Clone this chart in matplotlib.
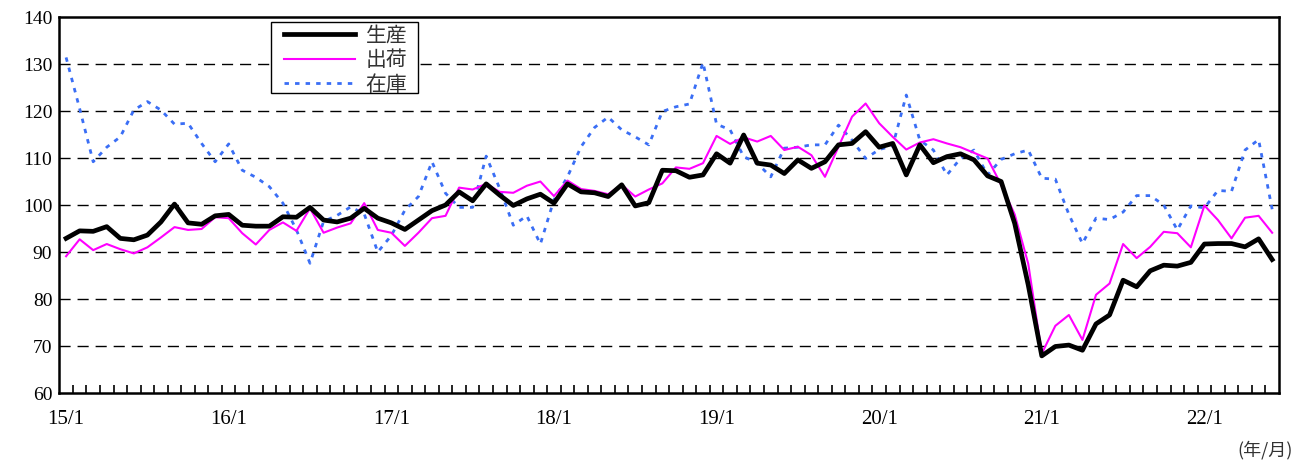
import matplotlib
matplotlib.use("Agg")
import matplotlib.pyplot as plt
from matplotlib.patches import Rectangle
from matplotlib.ticker import FixedLocator, NullFormatter

# month labels 15/1 .. 22/6
months = [f"{y}/{m}" for y in range(15, 23) for m in range(1, 13)][:90]
year_labels = ["15/1", "16/1", "17/1", "18/1", "19/1", "20/1", "21/1", "22/1"]

# 生産
production = [
    92.9, 94.5, 94.4, 95.4, 92.9, 92.6, 93.6, 96.4, 100.2, 96.2, 95.9, 97.7,
    98.0, 95.7, 95.5, 95.5, 97.5, 97.4, 99.5, 96.8, 96.4, 97.2, 99.3, 97.2,
    96.2, 94.8, 96.8, 98.8, 100.0, 102.8, 100.9, 104.5, 102.1, 99.9, 101.3, 102.3,
    100.4, 104.5, 102.8, 102.6, 101.8, 104.3, 99.8, 100.5, 107.4, 107.3, 105.9, 106.4,
    110.9, 108.9, 114.9, 108.9, 108.5, 106.7, 109.6, 107.8, 109.2, 112.8, 113.1, 115.6,
    112.3, 113.1, 106.4, 112.8, 109.0, 110.3, 110.9, 109.6, 106.2, 105.0, 96.1, 83.0,
    67.9, 69.9, 70.2, 69.1, 74.7, 76.6, 84.0, 82.6, 86.0, 87.2, 87.0, 87.8,
    91.7, 91.8, 91.8, 91.1, 92.8, 88.4,
]

# 出荷
shipments = [
    89.1, 92.7, 90.4, 91.7, 90.6, 89.7, 91.0, 93.1, 95.3, 94.7, 94.9, 97.4,
    97.2, 94.0, 91.6, 94.7, 96.3, 94.5, 99.3, 94.1, 95.2, 96.1, 100.4, 94.7,
    94.1, 91.3, 94.1, 97.2, 97.7, 103.7, 103.3, 104.5, 102.8, 102.6, 104.1, 105.0,
    101.9, 105.2, 103.4, 103.0, 102.3, 104.3, 101.8, 103.3, 104.6, 108.0, 107.7, 108.9,
    114.7, 113.0, 114.4, 113.5, 114.7, 111.7, 112.4, 110.6, 106.0, 112.4, 118.8, 121.6,
    117.4, 114.5, 111.8, 113.3, 114.0, 113.1, 112.3, 111.1, 109.9, 104.3, 98.0, 87.5,
    68.4, 74.3, 76.6, 71.3, 80.9, 83.3, 91.7, 88.7, 91.1, 94.3, 94.0, 91.0,
    99.9, 96.8, 92.9, 97.3, 97.7, 94.1,
]

# 在庫
inventory = [
    131.4, 120.5, 109.2, 112.3, 114.5, 120.2, 122.0, 120.2, 117.2, 117.4, 113.1, 109.2,
    113.0, 107.4, 105.9, 103.9, 100.4, 94.7, 87.6, 96.5, 97.8, 99.6, 98.1, 90.0,
    93.5, 98.9, 101.8, 109.2, 102.5, 99.5, 99.5, 110.4, 103.5, 95.7, 97.7, 91.7,
    101.1, 106.0, 112.4, 116.5, 118.7, 116.0, 114.5, 112.8, 119.9, 120.9, 121.5, 130.3,
    117.2, 116.0, 110.3, 108.9, 106.0, 112.1, 112.3, 112.8, 112.8, 117.0, 113.8, 109.9,
    111.8, 112.6, 123.4, 113.8, 111.7, 106.4, 109.9, 111.7, 106.4, 109.7, 110.9, 111.7,
    105.7, 105.5, 98.0, 91.8, 97.2, 96.9, 98.5, 102.0, 102.0, 100.0, 94.7, 99.8,
    99.4, 103.1, 102.9, 111.7, 113.9, 99.1,
]

series_labels = ["生産", "出荷", "在庫"]

num_font = "Liberation Serif"
jp_font = ["Noto Sans CJK JP", "DejaVu Sans"]

fig = plt.figure(figsize=(12.95, 4.70), dpi=100)
ax = fig.add_axes([0.0458, 0.1638, 0.9418, 0.8000])

x = list(range(len(months)))

# grid lines first so the series sit on top
for v in range(70, 140, 10):
    ax.axhline(v, color="black", lw=1.0, dashes=(8, 5), zorder=1)

ax.plot(x, inventory, color="#3A6EF5", lw=2.0, dashes=(1.6, 2.2), label=series_labels[2], zorder=2)
ax.plot(x, shipments, color="#FF00FF", lw=1.5, label=series_labels[1], zorder=3)
ax.plot(x, production, color="black", lw=3.4, label=series_labels[0], zorder=4)

ax.set_xlim(-0.5, len(months) - 0.5)
ax.set_ylim(60, 140)
ax.set_yticks(range(60, 141, 10))

# year labels on january, small inward ticks between months
ax.set_xticks([months.index(m) for m in year_labels])
ax.set_xticklabels(year_labels)
ax.xaxis.set_minor_locator(FixedLocator([i - 0.5 for i in range(1, len(months))]))
ax.xaxis.set_minor_formatter(NullFormatter())
ax.tick_params(axis="x", which="major", length=0, pad=12)
ax.tick_params(axis="x", which="minor", direction="in", length=6, width=1.2, color="black")
ax.tick_params(axis="y", length=0, pad=5)

for lab in ax.get_xticklabels():
    lab.set_fontfamily(num_font)
    lab.set_fontsize(15)
for lab in ax.get_yticklabels():
    lab.set_fontfamily(num_font)
    lab.set_fontsize(14)

for sp in ax.spines.values():
    sp.set_linewidth(1.8)
    sp.set_color("black")

# legend box drawn by hand, entries without frame inside it
ax.add_patch(Rectangle((0.1736, 0.7979), 0.1205, 0.1888, transform=ax.transAxes,
                       facecolor="white", edgecolor="black", lw=1.0, zorder=5))
h, l = ax.get_legend_handles_labels()
order = [2, 1, 0]
leg = ax.legend([h[i] for i in order], [l[i] for i in order],
                loc="upper left", bbox_to_anchor=(0.1845, 0.980), borderaxespad=0,
                frameon=False, handlelength=3.4, handletextpad=0.5,
                labelspacing=0.12, borderpad=0,
                prop={"family": jp_font, "size": 15})
leg.set_zorder(6)
for t in leg.get_texts():
    t.set_color("#333333")

fig.text(0.998, 0.022, "(年/月)", ha="right", va="bottom", family=jp_font, fontsize=13, color="#333333")

fig.savefig("out.png", dpi=100)
plt.close(fig)
